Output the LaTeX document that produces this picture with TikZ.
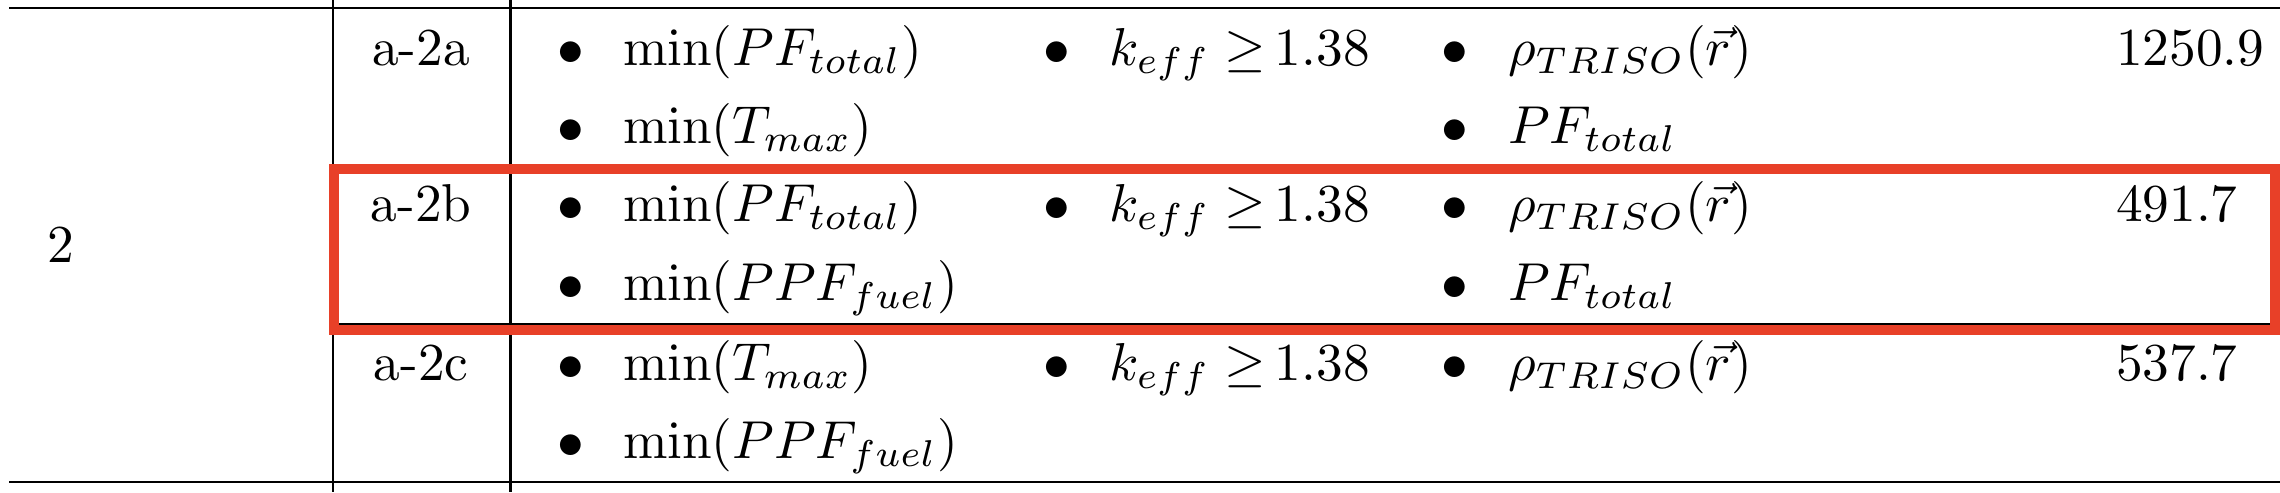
\documentclass[tikz,border=0pt]{standalone}
\usepackage{tikz}
\usepackage{xcolor}
\definecolor{boxred}{RGB}{232,64,40}

\begin{document}
\begin{tikzpicture}[x=0.1875pt, y=-0.1875pt,
    txt/.style={inner sep=0pt, anchor=base west},
    dot/.style={inner sep=0pt, anchor=base},
    tabrule/.style={line width=0.4pt}]
    \useasboundingbox (0,0) rectangle (2280,492);
    \clip (0,0) rectangle (2280,492);

    % Table rules
    \draw[tabrule] (9,8.3) -- (2280,8.3);
    \draw[tabrule] (9,482) -- (2280,482);
    \draw[tabrule] (333,0) -- (333,492);
    \draw[tabrule] (510.5,0) -- (510.5,492);
    \draw[tabrule] (333,169) -- (2280,169);
    \draw[tabrule] (333,324) -- (2280,324);

    % Group label
    \node[txt] (grp) at (46,262) {2};

    % Case names
    \node[dot] (id2a) at (421,65) {a-2a};
    \node[dot] (id2b) at (421,221.5) {a-2b};
    \node[dot] (id2c) at (421,380) {a-2c};

    % Objectives
    \node[dot] (ob1) at (571,65) {$\bullet$};
    \node[txt] (obj2a1) at (622,65) {$\min(PF_{total})$};
    \node[dot] (ob2) at (571,143.5) {$\bullet$};
    \node[txt] (obj2a2) at (622,143.5) {$\min(T_{max})$};
    \node[dot] (ob3) at (571,221.5) {$\bullet$};
    \node[txt] (obj2b1) at (622,221.5) {$\min(PF_{total})$};
    \node[dot] (ob4) at (571,300.5) {$\bullet$};
    \node[txt] (obj2b2) at (622,300.5) {$\min(PPF_{fuel})$};
    \node[dot] (ob5) at (571,380) {$\bullet$};
    \node[txt] (obj2c1) at (622,380) {$\min(T_{max})$};
    \node[dot] (ob6) at (571,458.5) {$\bullet$};
    \node[txt] (obj2c2) at (622,458.5) {$\min(PPF_{fuel})$};

    % Constraints
    \node[dot] (cb1) at (1057,65) {$\bullet$};
    \node[txt] (con2a) at (1108,65) {$k_{eff}\geq$\,1.38};
    \node[dot] (cb2) at (1057,221.5) {$\bullet$};
    \node[txt] (con2b) at (1108,221.5) {$k_{eff}\geq$\,1.38};
    \node[dot] (cb3) at (1057,380) {$\bullet$};
    \node[txt] (con2c) at (1108,380) {$k_{eff}\geq$\,1.38};

    % Design variables
    \node[dot] (vb1) at (1455,65) {$\bullet$};
    \node[txt] (var2a1) at (1507,65) {$\rho_{TRISO}(\vec{r})$};
    \node[dot] (vb2) at (1455,143.5) {$\bullet$};
    \node[txt] (var2a2) at (1507,143.5) {$PF_{total}$};
    \node[dot] (vb3) at (1455,221.5) {$\bullet$};
    \node[txt] (var2b1) at (1507,221.5) {$\rho_{TRISO}(\vec{r})$};
    \node[dot] (vb4) at (1455,300.5) {$\bullet$};
    \node[txt] (var2b2) at (1507,300.5) {$PF_{total}$};
    \node[dot] (vb5) at (1455,380) {$\bullet$};
    \node[txt] (var2c1) at (1507,380) {$\rho_{TRISO}(\vec{r})$};

    % Values
    \node[txt] (val2a) at (2115,65) {1250.9};
    \node[txt] (val2b) at (2115,221.5) {491.7};
    \node[txt] (val2c) at (2115,380) {537.7};

    % Highlight
    \draw[boxred, line width=1.875pt] (334,169) rectangle (2275,330);
\end{tikzpicture}
\end{document}
